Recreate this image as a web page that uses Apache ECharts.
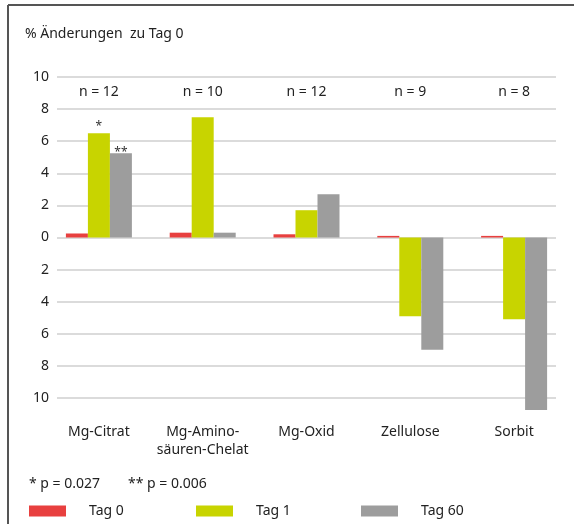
<!DOCTYPE html>
<html>
<head>
<meta charset="utf-8">
<script src="https://cdn.jsdelivr.net/npm/echarts@6/dist/echarts.min.js"></script>
<style>
  html, body { margin: 0; padding: 0; background: #fff; }
  #main { width: 574px; height: 524px; }
</style>
</head>
<body>
<div id="main"></div>
<script>
const categories = ["Mg-Citrat", "Mg-Amino-\nsäuren-Chelat", "Mg-Oxid", "Zellulose", "Sorbit"];
const sampleSizes = ["n = 12", "n = 10", "n = 12", "n = 9", "n = 8"];
const tag0 = [0.25, 0.3, 0.2, 0.1, 0.1];
const tag1 = [6.5, 7.5, 1.7, -4.9, -5.1];
const tag60 = [5.25, 0.3, 2.7, -7.0, -10.75];
const tag1Marks = ["*", "", "", "", ""];
const tag60Marks = ["**", "", "", "", ""];

const font = "'Noto Sans', sans-serif";
const textColor = "#222";

const withMarks = (values, marks, dist) =>
  values.map((v, i) =>
    marks[i]
      ? { value: v, label: { show: true, position: "top", distance: dist, formatter: marks[i], fontSize: 12, color: "#333" } }
      : v
  );

const chart = echarts.init(document.getElementById("main"));
chart.setOption({
  animation: false,
  textStyle: { fontFamily: font, color: textColor },
  title: {
    text: "% Änderungen  zu Tag 0",
    left: 20,
    top: 22,
    textStyle: { fontFamily: font, fontSize: 14, fontWeight: "normal", color: textColor },
  },
  graphic: [
    { type: "line", shape: { x1: 8, y1: 5, x2: 574, y2: 5 }, style: { stroke: "#555", lineWidth: 2 } },
    { type: "line", shape: { x1: 8, y1: 5, x2: 8, y2: 524 }, style: { stroke: "#555", lineWidth: 2 } },
    { type: "text", left: 29, top: 477, style: { text: "* p = 0.027", font: "14px 'Noto Sans'", fill: textColor } },
    { type: "text", left: 128, top: 477, style: { text: "** p = 0.006", font: "14px 'Noto Sans'", fill: textColor } },
  ],
  legend: [
    { data: ["Tag 0"], left: 29, top: 504 },
    { data: ["Tag 1"], left: 196, top: 504 },
    { data: ["Tag 60"], left: 361, top: 504 },
  ].map((l) => ({
    ...l,
    padding: 0,
    itemWidth: 37,
    itemHeight: 11,
    icon: "rect",
    textStyle: { fontFamily: font, fontSize: 14, color: textColor, padding: [0, 0, 0, 18] },
  })),
  // grid 0: gridlines + value labels; grid 1: bars and category labels
  grid: [
    { left: 57, right: 18, top: 77, bottom: 126 },
    { left: 47, right: 8, top: 77, bottom: 126 },
  ],
  xAxis: [
    { type: "category", gridIndex: 0, data: categories, show: false },
    {
      type: "category",
      gridIndex: 1,
      data: categories,
      position: "bottom",
      axisLine: { show: false },
      axisTick: { show: false },
      axisLabel: { interval: 0, margin: 25, fontSize: 14, lineHeight: 18, color: textColor, fontFamily: font },
    },
    {
      type: "category",
      gridIndex: 1,
      data: sampleSizes,
      position: "top",
      axisLine: { show: false },
      axisTick: { show: false },
      axisLabel: { interval: 0, inside: true, margin: 8, fontSize: 14, color: textColor, fontFamily: font },
    },
  ],
  yAxis: [
    {
      type: "value",
      gridIndex: 0,
      min: -10,
      max: 10,
      interval: 2,
      axisLine: { show: false },
      axisTick: { show: false },
      axisLabel: {
        margin: 8,
        fontSize: 14,
        color: textColor,
        fontFamily: font,
        formatter: (v) => String(Math.abs(v)),
      },
      splitLine: { lineStyle: { color: "#cfcfcf", width: 1.5 } },
    },
    {
      type: "value",
      gridIndex: 1,
      min: -10,
      max: 10,
      interval: 2,
      show: false,
      splitLine: { show: false },
    },
  ],
  series: [
    { name: "Tag 0", type: "bar", xAxisIndex: 1, yAxisIndex: 1, clip: false, data: tag0, barWidth: 22, barGap: "0%", itemStyle: { color: "#e8403f" } },
    { name: "Tag 1", type: "bar", xAxisIndex: 1, yAxisIndex: 1, clip: false, data: withMarks(tag1, tag1Marks, 1), barWidth: 22, barGap: "0%", itemStyle: { color: "#c8d400" } },
    { name: "Tag 60", type: "bar", xAxisIndex: 1, yAxisIndex: 1, clip: false, data: withMarks(tag60, tag60Marks, -5), barWidth: 22, barGap: "0%", itemStyle: { color: "#9d9d9d" } },
  ],
});
</script>
</body>
</html>
